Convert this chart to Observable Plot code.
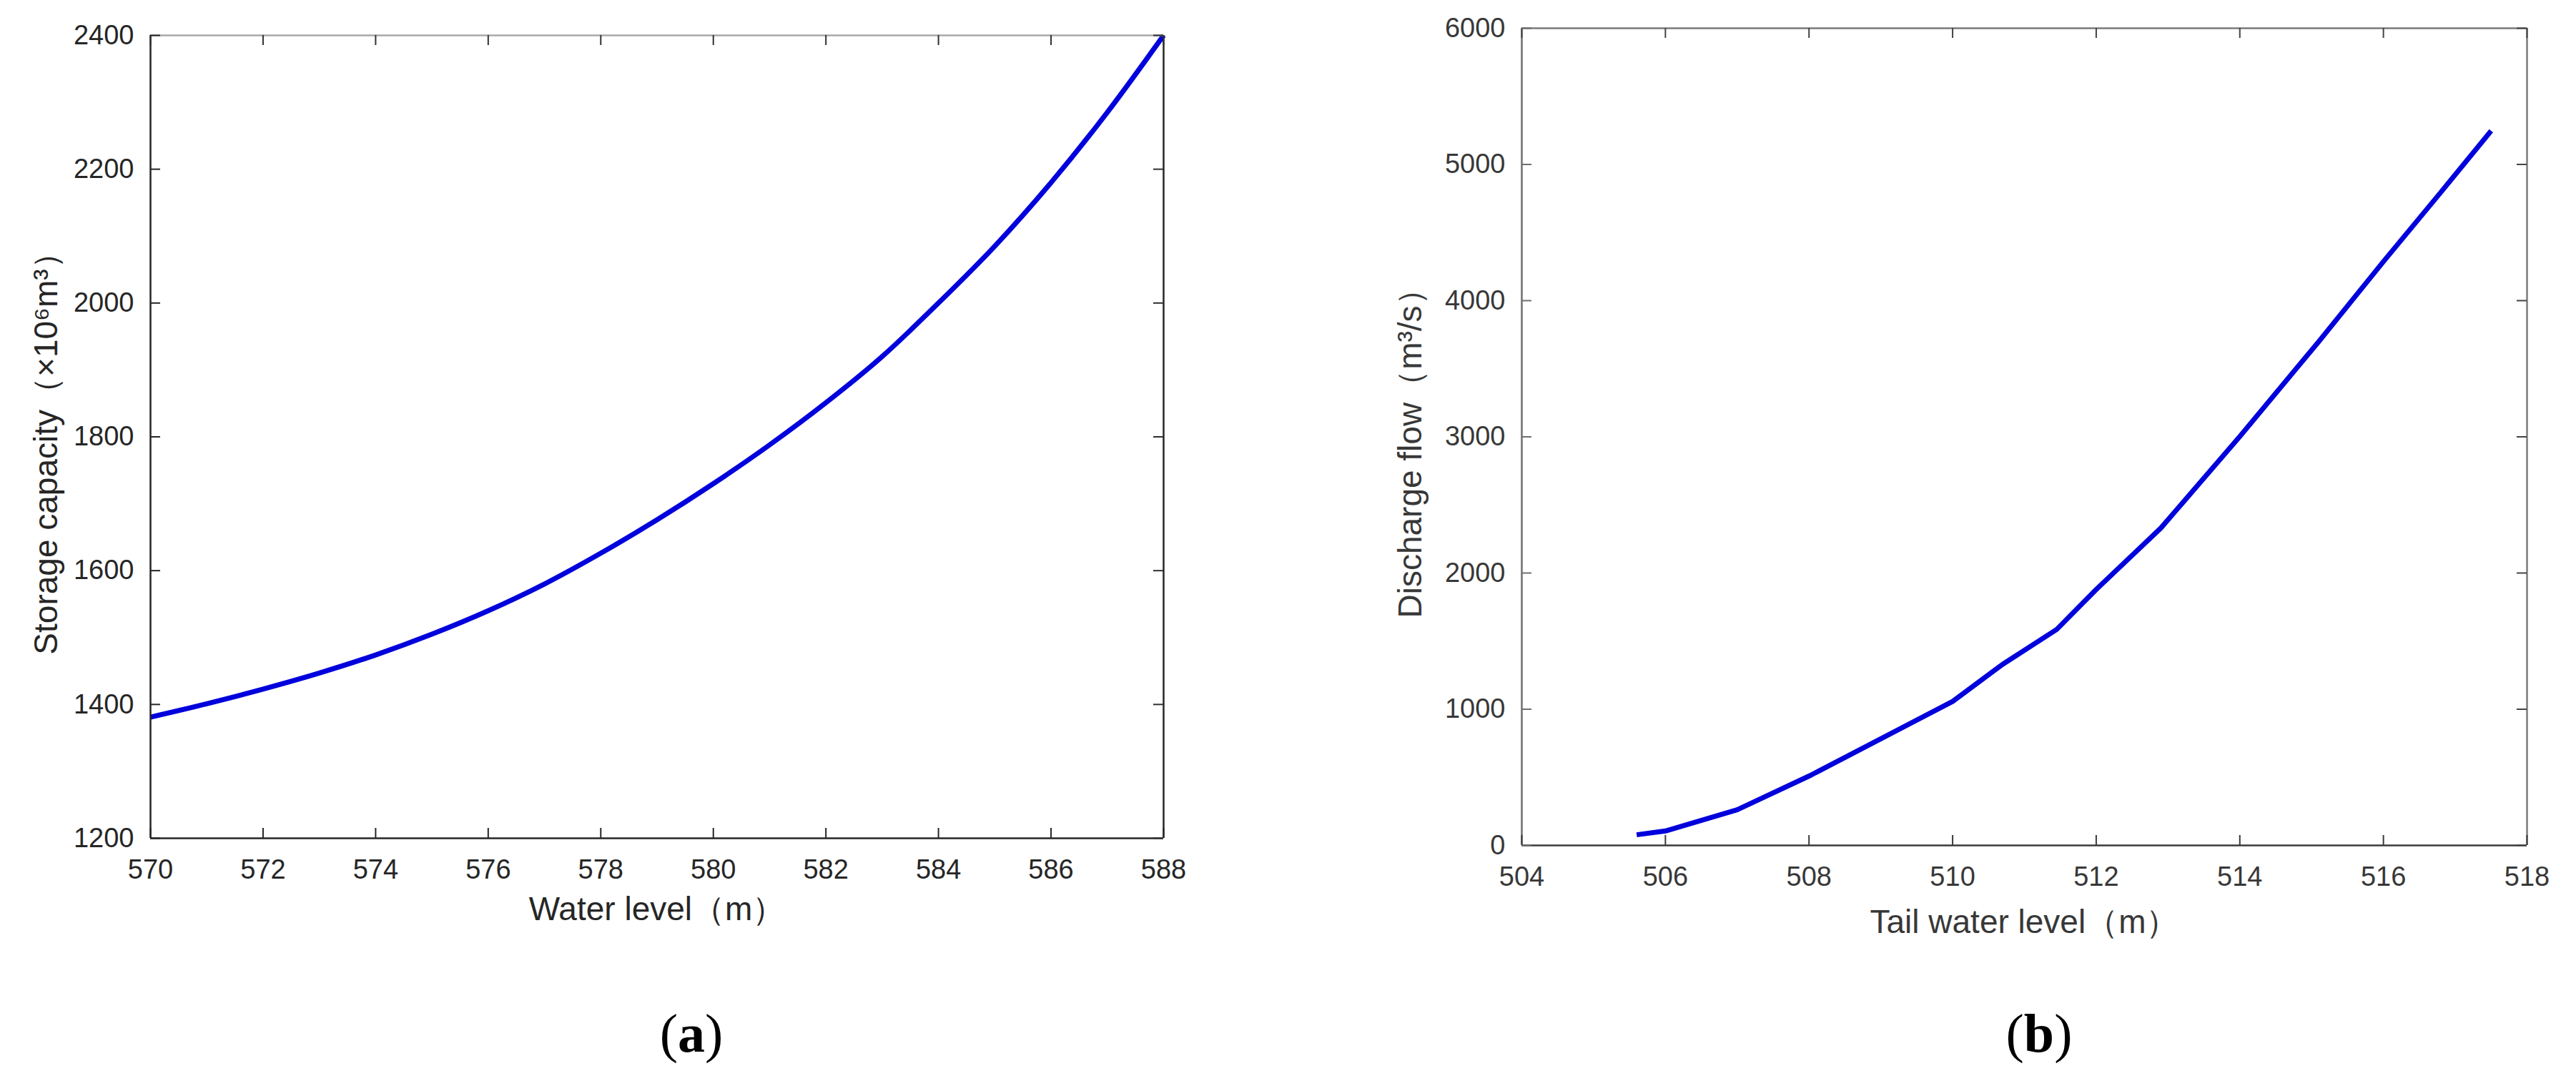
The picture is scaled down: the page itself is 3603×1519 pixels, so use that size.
<!DOCTYPE html>
<html><head><meta charset="utf-8">
<script src="https://cdn.jsdelivr.net/npm/d3@7"></script>
<script src="https://cdn.jsdelivr.net/npm/@observablehq/plot@0.6"></script>
<style>
html,body{margin:0;padding:0;background:#fff;}
#wrap{position:relative;width:3603px;height:1519px;overflow:hidden;background:#fff;}
.panel{position:absolute;top:0;}
.cap{position:absolute;font-family:"Liberation Serif","Times New Roman",serif;font-size:76px;line-height:76px;transform:translateX(-50%);color:#000;white-space:nowrap;}
.cap b{font-weight:bold;}
</style></head><body>
<div id="wrap"></div>
<script>
// ---- Panel (a): storage capacity curve ----
const waterLevel = [570,571,572,573,574,575,576,577,578,579,580,581,582,583,584,585,586,587,588];
const storageCapacity = [1381,1401,1423,1447,1474,1505,1540,1580,1626,1676,1730,1788,1851,1920,2000,2085,2180,2285,2400];
const xTicksA = [570,572,574,576,578,580,582,584,586,588];
const yTicksA = [1200,1400,1600,1800,2000,2200,2400];
const xLabelA = "Water level（m）";
const yLabelA = "Storage capacity（×10⁶m³）";
const captionA = "a";

// ---- Panel (b): tail water level - discharge curve ----
const tailWaterLevel = [505.6,506.0,507.0,508.0,509.0,510.0,510.7,511.45,512.0,512.9,514.0,515.1,516.0,516.8,517.5];
const dischargeFlow = [78,106,262,509,783,1057,1331,1586,1879,2330,3003,3700,4287,4796,5247];
const xTicksB = [504,506,508,510,512,514,516,518];
const yTicksB = [0,1000,2000,3000,4000,5000,6000];
const xLabelB = "Tail water level（m）";
const yLabelB = "Discharge flow（m³/s）";
const captionB = "b";

const FONT = "'Liberation Sans', Arial, Helvetica, sans-serif";
const LINE = "#0000dc";

function panel(cfg) {
  const innerW = cfg.width - cfg.ml - cfg.mr;
  const innerH = cfg.height - cfg.mt - cfg.mb;
  const [x0, x1] = cfg.xDomain, [y0, y1] = cfg.yDomain;
  const data = cfg.xs.map((x, i) => ({x, y: cfg.ys[i]}));
  const fmt = d => String(d);
  return Plot.plot({
    width: cfg.width, height: cfg.height,
    marginLeft: cfg.ml, marginRight: cfg.mr, marginTop: cfg.mt, marginBottom: cfg.mb,
    style: {fontFamily: FONT, background: "white", overflow: "visible"},
    x: {domain: cfg.xDomain, axis: null},
    y: {domain: cfg.yDomain, axis: null},
    marks: [
      // curve
      Plot.line(data, {x: "x", y: "y", curve: cfg.curve, stroke: LINE, strokeWidth: 7, strokeLinejoin: "round", strokeLinecap: "butt"}),
      // frame
      Plot.ruleX([x0], {stroke: cfg.cLeft, strokeWidth: 2.5}),
      Plot.ruleX([x1], {stroke: cfg.cRight, strokeWidth: 2.5}),
      Plot.ruleY([y0], {stroke: cfg.cBottom, strokeWidth: 2.5}),
      Plot.ruleY([y1], {stroke: cfg.cTop, strokeWidth: 2.5}),
      // inward ticks on all four sides
      Plot.tickX(cfg.xTicks, {x: d => d, insetTop: innerH - 14, stroke: cfg.cBottom, strokeWidth: 2}),
      Plot.tickX(cfg.xTicks, {x: d => d, insetBottom: innerH - 14, stroke: cfg.cTick, strokeWidth: 2}),
      Plot.tickY(cfg.yTicks, {y: d => d, insetRight: innerW - 14, stroke: cfg.cLeft, strokeWidth: 2}),
      Plot.tickY(cfg.yTicks, {y: d => d, insetLeft: innerW - 14, stroke: cfg.cTick, strokeWidth: 2}),
      // tick labels
      Plot.axisX(cfg.xTicks, {anchor: "bottom", tickSize: 0, tickPadding: 30, fontSize: 38, fill: cfg.cText, tickFormat: fmt, label: null}),
      Plot.axisY(cfg.yTicks, {anchor: "left", tickSize: 0, tickPadding: 23, fontSize: 38, fill: cfg.cText, tickFormat: fmt, label: null}),
      // axis titles
      Plot.text([cfg.xLabel], {text: d => d, frameAnchor: "bottom", textAnchor: "middle", lineAnchor: "middle", dy: cfg.xLabelDy, fontSize: 46, fill: cfg.cText}),
      Plot.text([cfg.yLabel], {text: d => d, frameAnchor: "left", textAnchor: "middle", lineAnchor: "middle", rotate: -90, dx: cfg.yLabelDx, dy: 12, fontSize: 46, fill: cfg.cText})
    ]
  });
}

const wrap = document.getElementById("wrap");

const svgA = panel({
  width: 1800, height: 1330, ml: 210, mr: 173, mt: 49, mb: 158,
  xs: waterLevel, ys: storageCapacity, curve: "monotone-x",
  xDomain: [570, 588], yDomain: [1200, 2400],
  xTicks: xTicksA, yTicks: yTicksA,
  xLabel: xLabelA, yLabel: yLabelA,
  xLabelDy: 100, yLabelDx: -145,
  cLeft: "#262626", cRight: "#262626", cBottom: "#262626", cTop: "#a8a8a8", cTick: "#303030", cText: "#262626"
});
const divA = document.createElement("div");
divA.className = "panel"; divA.style.left = "0px";
divA.appendChild(svgA);
wrap.appendChild(divA);

const svgB = panel({
  width: 1753, height: 1330, ml: 278, mr: 69, mt: 39, mb: 148,
  xs: tailWaterLevel, ys: dischargeFlow, curve: "linear",
  xDomain: [504, 518], yDomain: [0, 6000],
  xTicks: xTicksB, yTicks: yTicksB,
  xLabel: xLabelB, yLabel: yLabelB,
  xLabelDy: 108, yLabelDx: -155,
  cLeft: "#6e6e6e", cRight: "#7a7a7a", cBottom: "#3a3a3a", cTop: "#7a7a7a", cTick: "#444444", cText: "#383838"
});
const divB = document.createElement("div");
divB.className = "panel"; divB.style.left = "1850px";
divB.appendChild(svgB);
wrap.appendChild(divB);

function caption(letter, cx) {
  const d = document.createElement("div");
  d.className = "cap";
  d.style.left = cx + "px";
  d.style.top = "1407px";
  d.append("(");
  const b = document.createElement("b"); b.textContent = letter; d.appendChild(b);
  d.append(")");
  wrap.appendChild(d);
}
caption(captionA, 967);
caption(captionB, 2852);
</script>
</body></html>
